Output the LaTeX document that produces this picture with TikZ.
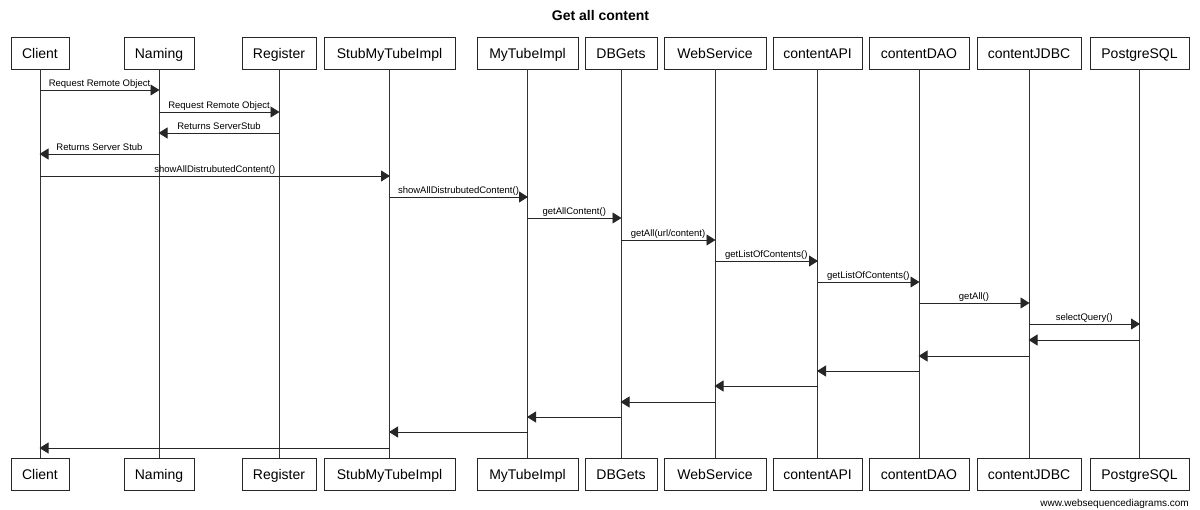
\documentclass[tikz,border=0pt]{standalone}
\usepackage{fontspec}
\setmainfont{Liberation Sans}
\usetikzlibrary{arrows.meta}
\tikzset{
  party/.style={draw=black!85, line width=0.9pt, fill=white, minimum height=32pt, inner sep=0pt, text height=12.5pt, text depth=2pt, font=\fontsize{14}{16}\selectfont},
  lifeline/.style={draw=black!80, line width=0.9pt},
  msgline/.style={draw=black!85, line width=0.9pt, -{Triangle[length=9pt,width=11pt]}, shorten >=-0.5pt},
  lbl/.style={midway, above, inner sep=1.2pt, text height=7pt, text depth=2pt, font=\fontsize{9.5}{11}\selectfont},
}
\newcommand\mymsg[4]{\draw[msgline] (#1 |- 0,#3) -- (#2 |- 0,#3) node[lbl] {#4};}
\begin{document}
\begin{tikzpicture}[x=1pt,y=-1pt]
\useasboundingbox (0,0) rectangle (1200,509);
\node[font=\bfseries\fontsize{14}{16}\selectfont] (title) at (600.5,15) {Get all content};
% participants: name, label, center x, width
\foreach \nm/\lab/\cx/\w in {Client/Client/40/58, Naming/Naming/159/70, Register/Register/279/74, Stub/StubMyTubeImpl/389.5/131, MyTube/MyTubeImpl/527.5/101, DBGets/DBGets/621/72, WebService/WebService/715/102, contentAPI/contentAPI/817.5/89, contentDAO/contentDAO/919/100, contentJDBC/contentJDBC/1029/104, PostgreSQL/PostgreSQL/1139.5/99}{
  \node[party, minimum width=\w pt] (\nm) at (\cx,53) {\lab};
  \node[party, minimum width=\w pt] (\nm B) at (\cx,474) {\lab};
  \draw[lifeline] (\nm.south) -- (\nm B.north);
}
\mymsg{Client}{Naming}{90}{Request Remote Object}
\mymsg{Naming}{Register}{112}{Request Remote Object}
\mymsg{Register}{Naming}{133}{Returns ServerStub}
\mymsg{Naming}{Client}{154}{Returns Server Stub}
\mymsg{Client}{Stub}{176}{showAllDistrubutedContent()}
\mymsg{Stub}{MyTube}{197}{showAllDistrubutedContent()}
\mymsg{MyTube}{DBGets}{218}{getAllContent()}
\mymsg{DBGets}{WebService}{240}{getAll(url/content)}
\mymsg{WebService}{contentAPI}{261}{getListOfContents()}
\mymsg{contentAPI}{contentDAO}{282}{getListOfContents()}
\mymsg{contentDAO}{contentJDBC}{303}{getAll()}
\mymsg{contentJDBC}{PostgreSQL}{324}{selectQuery()}
\mymsg{PostgreSQL}{contentJDBC}{340}{}
\mymsg{contentJDBC}{contentDAO}{356}{}
\mymsg{contentDAO}{contentAPI}{371}{}
\mymsg{contentAPI}{WebService}{386}{}
\mymsg{WebService}{DBGets}{402}{}
\mymsg{DBGets}{MyTube}{417}{}
\mymsg{MyTube}{Stub}{432}{}
\mymsg{Stub}{Client}{448}{}
\node[anchor=east, inner sep=0pt, font=\fontsize{10}{11}\selectfont] (footer) at (1189,504) {www.websequencediagrams.com};
\end{tikzpicture}
\end{document}
